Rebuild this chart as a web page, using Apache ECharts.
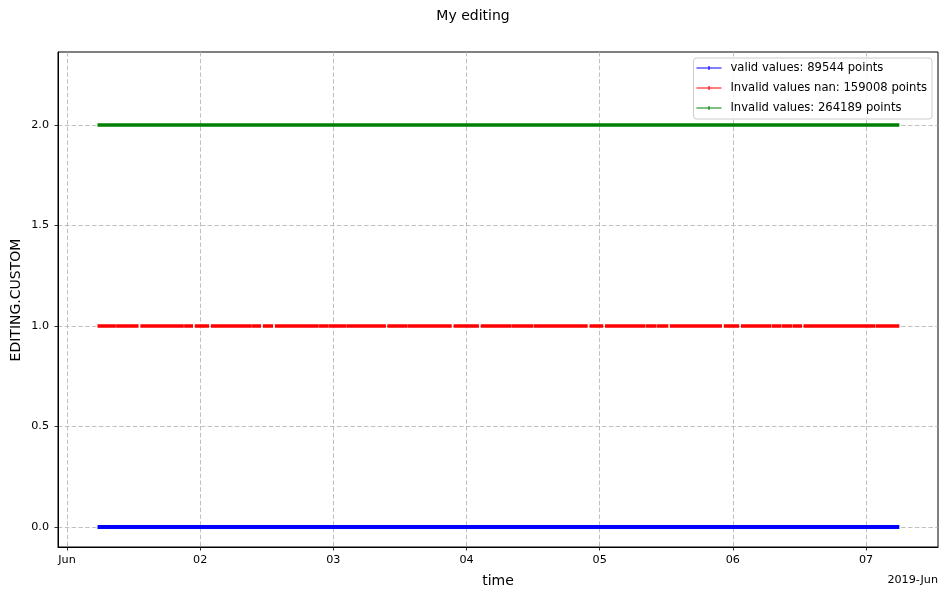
<!DOCTYPE html>
<html>
<head>
<meta charset="utf-8">
<script src="https://cdn.jsdelivr.net/npm/echarts@6/dist/echarts.min.js"></script>
<style>
html,body{margin:0;padding:0;background:#fff;}
#chart{width:947px;height:599px;}
</style>
</head>
<body>
<div id="chart"></div>
<script>
// ---- data (x in hours since 2019-06-01 00:00) ----
const dayTickHours = [0, 24, 48, 72, 96, 120, 144];
const dayTickLabels = ['Jun', '02', '03', '04', '05', '06', '07'];
const yTickValues = [0, 0.5, 1, 1.5, 2];
const seriesNames = ['valid values: 89544 points', 'Invalid values nan: 159008 points', 'Invalid values: 264189 points'];
const seriesLevels = [0, 1, 2];
const seriesColors = ['#0000ff', '#ff0000', '#008000'];
const validSegments = [[5.5, 150.0]];
const invalidSegments = [[5.5, 150.0]];
// gaps in the "nan" series: [center hour, width hours]
const nanGaps = [
  [8.83, 0.05], [13.06, 0.33], [21.08, 0.05], [22.88, 0.33], [25.77, 0.33],
  [33.33, 0.05], [35.14, 0.33], [37.30, 0.33], [45.4, 0.05], [47.2, 0.05],
  [50.3, 0.05], [57.6, 0.25], [61.4, 0.05], [69.5, 0.33], [74.4, 0.33],
  [80.1, 0.05], [84.1, 0.08], [94.0, 0.33], [96.8, 0.33], [104.3, 0.08],
  [106.3, 0.08], [108.5, 0.25], [118.2, 0.33], [121.3, 0.33], [127.0, 0.08],
  [128.8, 0.08], [130.8, 0.08], [132.6, 0.25], [145.7, 0.08]
];
const nanRange = [5.5, 150.0];
const xRangeHours = [-1.622, 156.97];
const yRange = [-0.1, 2.363];

// ---- build ----
const nanSegments = [];
let s = nanRange[0];
nanGaps.forEach(([c, w]) => { nanSegments.push([s, c - w / 2]); s = c + w / 2; });
nanSegments.push([s, nanRange[1]]);

function buildData(segments, lvl) {
  const d = [];
  segments.forEach((seg, i) => {
    if (i > 0) d.push([(segments[i - 1][1] + seg[0]) / 2, '-']);
    d.push([seg[0], lvl]);
    d.push([seg[1], lvl]);
  });
  return d;
}
const segs = [validSegments, nanSegments, invalidSegments];

const FONT = 'DejaVu Sans';
const gridDash = { color: '#b0b0b0', width: 0.8, type: [4.5, 2.3] };

const chart = echarts.init(document.getElementById('chart'), null, { renderer: 'canvas' });
chart.setOption({
  animation: false,
  backgroundColor: '#fff',
  grid: { left: 58, right: 9, top: 52, bottom: 52, show: true, borderColor: '#000', borderWidth: 1, backgroundColor: 'transparent' },
  xAxis: {
    type: 'value',
    min: xRangeHours[0], max: xRangeHours[1],
    axisLine: { show: true, onZero: false, lineStyle: { color: '#000', width: 1 } },
    axisTick: { show: true, inside: false, length: 3.5, lineStyle: { color: '#000', width: 0.8 }, customValues: dayTickHours },
    axisLabel: {
      show: true, margin: 8, color: '#000', fontSize: 11.2, fontFamily: FONT,
      customValues: dayTickHours,
      formatter: v => { const i = dayTickHours.findIndex(x => Math.abs(x - v) < 0.01); return i >= 0 ? dayTickLabels[i] : ''; }
    },
    splitLine: { show: true, lineStyle: gridDash, customValues: dayTickHours }
  },
  yAxis: {
    type: 'value',
    min: yRange[0], max: yRange[1],
    axisLine: { show: true, onZero: false, lineStyle: { color: '#000', width: 1 } },
    axisTick: { show: true, inside: false, length: 3.5, lineStyle: { color: '#000', width: 0.8 }, customValues: yTickValues },
    axisLabel: { show: true, margin: 9, color: '#000', fontSize: 11.2, fontFamily: FONT, customValues: yTickValues, formatter: v => Number(v).toFixed(1) },
    splitLine: { show: true, lineStyle: gridDash, customValues: yTickValues }
  },
  legend: {
    orient: 'vertical', right: 15, top: 58,
    backgroundColor: 'rgba(255,255,255,0.85)', borderColor: '#cccccc', borderWidth: 1, borderRadius: 3,
    padding: [4, 5, 5, 3], itemGap: 8, itemWidth: 25, itemHeight: 7,
    icon: 'path://M0,3H25V4.2H0Z M12,1.5H13.1V5.7H12Z',
    textStyle: { fontSize: 11.6, fontFamily: FONT, color: '#000', lineHeight: 11, padding: [0, 0, 0, 4] },
    data: seriesNames
  },
  series: seriesNames.map((name, i) => ({
    name, type: 'line', showSymbol: false, symbol: 'none', connectNulls: false,
    color: seriesColors[i],
    lineStyle: { color: seriesColors[i], width: i === 0 ? 4 : 3.5, cap: 'butt' },
    data: buildData(segs[i], seriesLevels[i]),
    z: 3
  })),
  graphic: [
    { type: 'text', x: 473, y: 16, style: { text: 'My editing', font: '14px "DejaVu Sans"', fill: '#000', align: 'center', verticalAlign: 'middle' } },
    { type: 'text', x: 498, y: 581, style: { text: 'time', font: '14px "DejaVu Sans"', fill: '#000', align: 'center', verticalAlign: 'middle' } },
    { type: 'text', x: 16, y: 300, rotation: Math.PI / 2, style: { text: 'EDITING.CUSTOM', font: '14px "DejaVu Sans"', fill: '#000', align: 'center', verticalAlign: 'middle' } },
    { type: 'text', x: 938, y: 580, style: { text: '2019-Jun', font: '11.2px "DejaVu Sans"', fill: '#000', align: 'right', verticalAlign: 'middle' } }
  ]
});
</script>
</body>
</html>
